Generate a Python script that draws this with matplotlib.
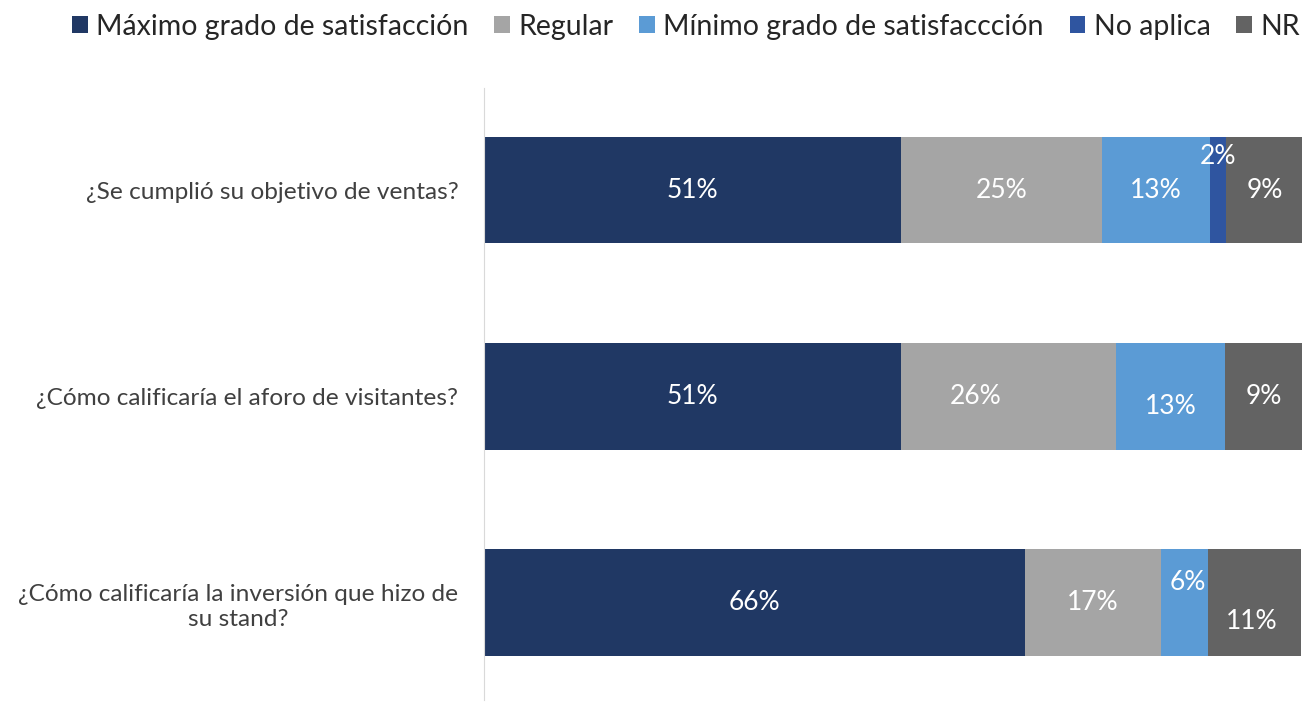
import numpy as np
import matplotlib
matplotlib.use("Agg")
import matplotlib.pyplot as plt

plt.rcParams['font.family'] = ['Lato', 'DejaVu Sans']

questions = ["¿Se cumplió su objetivo de ventas?",
             "¿Cómo calificaría el aforo de visitantes?",
             "¿Cómo calificaría la inversión que hizo de\nsu stand?"]
series = ["Máximo grado de satisfacción", "Regular", "Mínimo grado de satisfaccción",
          "No aplica", "NR"]
maximo = [51.0, 51.0, 66.1]
regular = [24.6, 26.3, 16.7]
minimo = [13.1, 13.3, 5.7]
no_aplica = [2.0, 0.0, 0.0]
nr = [9.4, 9.4, 11.4]

colors = ["#203864", "#A5A5A5", "#5B9BD5", "#2F55A0", "#636363"]
# label offsets in pixels (dx, dy; dy positive = up), manual placements as in the original
offsets = {(0, 3): (0, 34), (1, 1): (-33, 0), (1, 2): (0, -10),
           (2, 2): (3, 20), (2, 4): (-3, -19)}

fig = plt.figure(figsize=(13.07, 7.02), dpi=100)
ax = fig.add_axes([484 / 1307, 2 / 702, 818 / 1307, 612 / 702])

data = [maximo, regular, minimo, no_aplica, nr]
y = np.arange(len(questions))
left = np.zeros(len(questions))
for si, (name, vals, c) in enumerate(zip(series, data, colors)):
    vals = np.array(vals)
    ax.barh(y, vals, left=left, height=0.518, color=c, label=name)
    for qi, v in enumerate(vals):
        if v <= 0:
            continue
        dx, dy = offsets.get((qi, si), (0, 0))
        ax.annotate(f"{v:.0f}%", (left[qi] + v / 2, y[qi]), xytext=(dx * 0.72, dy * 0.72),
                    textcoords="offset points", ha="center", va="center",
                    color="white", fontsize=19)
    left += vals

ax.set_xlim(0, 100)
ax.set_ylim(2.47, -0.494)
ax.set_yticks(y)
ax.set_yticklabels(questions, fontsize=17.6, color="#404040", multialignment="center",
                   linespacing=1.25)
ax.tick_params(axis="y", length=0, pad=18.5)
ax.set_xticks([])
for s in ["top", "right", "bottom"]:
    ax.spines[s].set_visible(False)
ax.spines["left"].set_color("#D9D9D9")

h, l = ax.get_legend_handles_labels()
fig.legend(h, l, loc="center", bbox_to_anchor=(0.525, 0.962), ncol=5, frameon=False,
           fontsize=20.5, handlelength=0.55, handleheight=0.55, handletextpad=0.3,
           columnspacing=0.9, labelcolor="#262626")

fig.savefig("out.png", dpi=100)
